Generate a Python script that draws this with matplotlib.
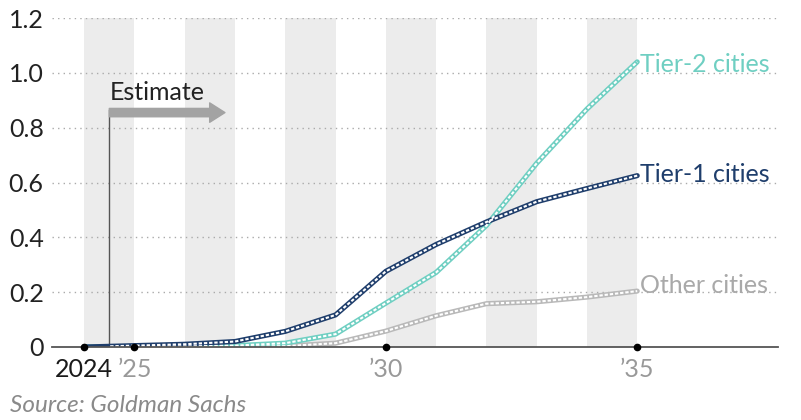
import matplotlib.pyplot as plt
from matplotlib.patches import Rectangle

years = [2024, 2025, 2026, 2027, 2028, 2029, 2030, 2031, 2032, 2033, 2034, 2035]
tier1 = [0.0, 0.005, 0.01, 0.02, 0.057, 0.117, 0.276, 0.374, 0.456, 0.53, 0.578, 0.625]
tier2 = [0.0, 0.0, 0.002, 0.005, 0.014, 0.047, 0.16, 0.272, 0.443, 0.67, 0.868, 1.04]
other = [0.0, 0.0, 0.0, 0.001, 0.003, 0.014, 0.058, 0.114, 0.158, 0.165, 0.182, 0.204]

series = [
    ("Other cities", other, "#b9b9b9", "#a9a9a9", 0.225),
    ("Tier-2 cities", tier2, "#6fcfc2", "#6fcfc2", 1.03),
    ("Tier-1 cities", tier1, "#1f3e6c", "#1f3e6c", 0.63),
]

band_starts = years[::2]
xtick_pos = [2024, 2025, 2030, 2035]
xtick_labels = ["2024", "\u201925", "\u201930", "\u201935"]
ytick_pos = [0, 0.2, 0.4, 0.6, 0.8, 1.0, 1.2]
ytick_labels = ["0", "0.2", "0.4", "0.6", "0.8", "1.0", "1.2"]

estimate_start = 2024.5
estimate_top = 0.865
arrow_end = 2026.8
arrow_y = 0.855

plt.rcParams["font.family"] = ["Lato", "DejaVu Sans"]

fig = plt.figure(figsize=(8.01, 4.2), dpi=100)
ax = fig.add_axes([52 / 801, 1 - 347 / 420, (778 - 52) / 801, (347 - 18) / 420])
ax.set_xlim(2023.36, 2037.8)
ax.set_ylim(0, 1.2)

for x0 in band_starts:
    ax.axvspan(x0, x0 + 1, ymin=0, ymax=1, color="#ececec", lw=0, zorder=0)

for y in ytick_pos[1:]:
    ax.axhline(y, color="#aaaaaa", lw=1.0, ls=(0, (1, 3)), zorder=1)

# estimate marker
ax.plot([estimate_start, estimate_start], [0, estimate_top], color="#555555", lw=1.0, zorder=2)
ax.annotate("", xy=(arrow_end, arrow_y), xytext=(estimate_start, arrow_y),
            arrowprops=dict(width=6, headwidth=14, headlength=11, color="#a3a3a3", shrink=0),
            zorder=2)
ax.text(estimate_start, 0.93, "Estimate", fontsize=18, color="#222222", ha="left", va="center")

clip = Rectangle((estimate_start, -1), 100, 10, transform=ax.transData)
for name, vals, color, tcolor, ty in series:
    ax.plot(years, vals, color=color, lw=3.7, solid_capstyle="round", zorder=3)
    inner, = ax.plot(years, vals, color="white", lw=1.5, dashes=(1.6, 0.9), zorder=4)
    inner.set_clip_path(clip)
    ax.text(years[-1] + 0.05, ty, name, fontsize=18, color=tcolor, ha="left", va="center")

ax.plot(xtick_pos, [0] * len(xtick_pos), "o", color="black", ms=4.5, clip_on=False, zorder=6)

for s in ["top", "right", "left"]:
    ax.spines[s].set_visible(False)
ax.spines["bottom"].set_color("#555555")
ax.spines["bottom"].set_linewidth(1.3)
ax.spines["bottom"].set_zorder(5)

ax.set_yticks(ytick_pos)
ax.set_yticklabels(ytick_labels)
ax.set_xticks(xtick_pos)
ax.set_xticklabels(xtick_labels)
ax.tick_params(axis="both", length=0, labelsize=18)
ax.tick_params(axis="y", pad=6, labelcolor="#222222")
ax.tick_params(axis="x", pad=8)
for i, lab in enumerate(ax.get_xticklabels()):
    lab.set_color("#1a1a1a" if i == 0 else "#999999")

fig.text(10 / 801, 1 - 406 / 420, "Source: Goldman Sachs", fontsize=17.5, style="italic",
         color="#8a8a8a", ha="left", va="center")

fig.savefig("out.png", dpi=100)
